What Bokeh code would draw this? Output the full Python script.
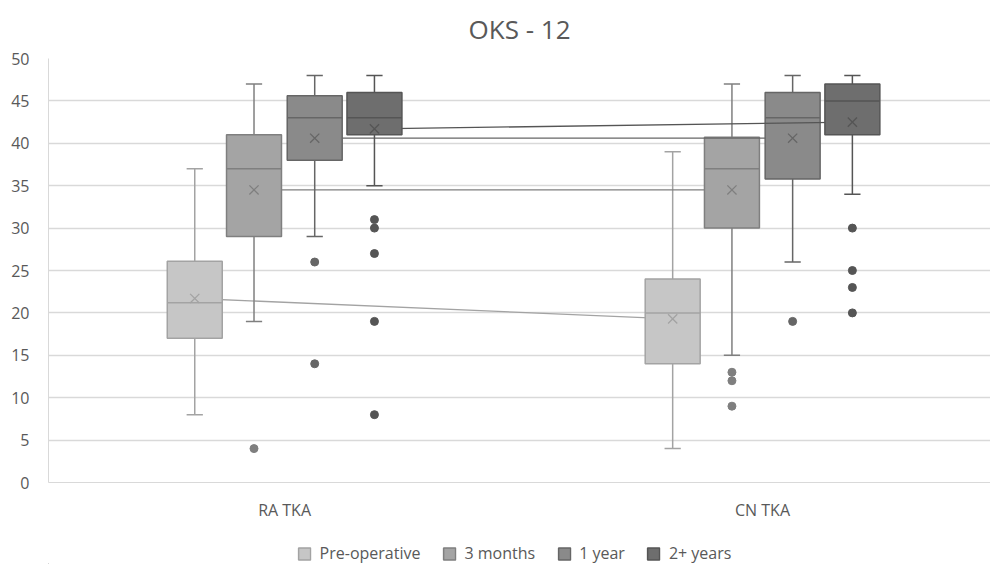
from bokeh.plotting import figure
from bokeh.models import Range1d, FixedTicker, Legend, LegendItem, ColumnDataSource
from bokeh.layouts import column
from bokeh.embed import file_html
from bokeh.resources import INLINE

groups = ["RA TKA", "CN TKA"]
series = ["Pre-operative", "3 months", "1 year", "2+ years"]

# per series: values for [RA, CN]
w_low = {"Pre-operative": [8, 4], "3 months": [19, 15], "1 year": [29, 26], "2+ years": [35, 34]}
q1 = {"Pre-operative": [17, 14], "3 months": [29, 30], "1 year": [38, 35.8], "2+ years": [41, 41]}
med = {"Pre-operative": [21.2, 20], "3 months": [37, 37], "1 year": [43, 43], "2+ years": [43, 45]}
q3 = {"Pre-operative": [26.1, 24], "3 months": [41, 40.7], "1 year": [45.6, 46], "2+ years": [46, 47]}
w_high = {"Pre-operative": [37, 39], "3 months": [47, 47], "1 year": [48, 48], "2+ years": [48, 48]}
means = {"Pre-operative": [21.7, 19.3], "3 months": [34.5, 34.5], "1 year": [40.6, 40.6], "2+ years": [41.7, 42.5]}
outliers = {
    "Pre-operative": [[], []],
    "3 months": [[4], [13, 12, 9]],
    "1 year": [[26, 14], [19]],
    "2+ years": [[31, 30, 27, 19, 8], [30, 25, 23, 20]],
}
y_ticks = [0, 5, 10, 15, 20, 25, 30, 35, 40, 45, 50]

fills = ["#c6c6c6", "#a4a4a4", "#8a8a8a", "#6e6e6e"]
lines = ["#a3a3a3", "#7f7f7f", "#666666", "#555555"]
offsets = [-0.188, -0.064, 0.063, 0.188]
box_w = 0.115
cap_w = 0.034
group_x = [1, 2]

p = figure(frame_width=942, frame_height=424, output_backend="svg", toolbar_location=None,
           x_range=Range1d(0.506, 2.477), y_range=Range1d(0, 50),
           min_border_left=48, min_border_right=0, min_border_top=0, min_border_bottom=0)

p.title.text = "OKS - 12"
p.title.align = "center"
p.title.vertical_align = "top"
p.title.text_font = "Open Sans"
p.title.text_font_size = "26px"
p.title.text_font_style = "normal"
p.title.text_color = "#595959"
p.title.standoff = 20

p.outline_line_color = None
p.xgrid.grid_line_color = None
p.ygrid.grid_line_color = "#d9d9d9"
p.ygrid.grid_line_width = 1.3
p.yaxis.ticker = FixedTicker(ticks=y_ticks)
p.xaxis.ticker = FixedTicker(ticks=group_x)
p.xaxis.major_label_overrides = {1: groups[0], 2: groups[1]}
for ax in (p.xaxis, p.yaxis):
    ax.major_tick_line_color = None
    ax.minor_tick_line_color = None
    ax.major_label_text_font = "Open Sans"
    ax.major_label_text_color = "#595959"
p.yaxis.axis_line_color = "#d9d9d9"
p.xaxis.axis_line_color = "#d9d9d9"
p.yaxis.major_label_text_font_size = "16px"
p.yaxis.major_label_standoff = 13
p.xaxis.major_label_text_font_size = "16px"
p.xaxis.major_label_standoff = 10

# legend figure below the chart
lf = figure(width=990, height=41, output_backend="svg", toolbar_location=None,
            x_range=Range1d(0, 1), y_range=Range1d(0, 1), min_border=0, min_border_right=10)
lf.axis.visible = False
lf.grid.visible = False
lf.outline_line_color = None

# proxy source placed outside the legend figure's visible range
proxy = ColumnDataSource(data=dict(x=[-5], top=[-4], bottom=[-5]))

items = []
for i, s in enumerate(series):
    xs = [g + offsets[i] for g in group_x]
    # mean connecting line
    p.line(xs, means[s], line_color=lines[i], line_width=1.3)
    # whiskers
    p.segment(xs, q3[s], xs, w_high[s], line_color=lines[i], line_width=1.5)
    p.segment(xs, w_low[s], xs, q1[s], line_color=lines[i], line_width=1.5)
    p.segment([x - cap_w / 2 for x in xs], w_high[s], [x + cap_w / 2 for x in xs], w_high[s],
              line_color=lines[i], line_width=1.5)
    p.segment([x - cap_w / 2 for x in xs], w_low[s], [x + cap_w / 2 for x in xs], w_low[s],
              line_color=lines[i], line_width=1.5)
    # boxes
    p.vbar(x=xs, width=box_w, bottom=q1[s], top=q3[s], fill_color=fills[i],
           line_color=lines[i], line_width=1.5)
    # median
    p.segment([x - box_w / 2 for x in xs], med[s], [x + box_w / 2 for x in xs], med[s],
              line_color=lines[i], line_width=1.5)
    # mean marker
    p.scatter(xs, means[s], marker="x", size=13, line_color=lines[i], line_width=1.3)
    # outliers
    ox, oy = [], []
    for gi, x in enumerate(xs):
        for v in outliers[s][gi]:
            ox.append(x)
            oy.append(v)
    if ox:
        p.scatter(ox, oy, marker="circle", size=8, fill_color=lines[i], line_color=lines[i])
    # legend proxy
    r = lf.vbar(x="x", top="top", bottom="bottom", width=0.1, source=proxy,
                fill_color=fills[i], line_color=lines[i], line_width=1.5)
    items.append(LegendItem(label=s, renderers=[r]))

legend = Legend(items=items, orientation="horizontal", location="bottom_center")
legend.label_text_font = "Open Sans"
legend.label_text_font_size = "16px"
legend.label_text_color = "#595959"
legend.border_line_color = None
legend.background_fill_alpha = 0
legend.glyph_width = 15
legend.glyph_height = 15
legend.spacing = 21
legend.label_standoff = 8
legend.margin = 0
legend.padding = 2
lf.add_layout(legend)

layout = column(p, lf, spacing=0)
open("out.html", "w").write(file_html(layout, INLINE))
